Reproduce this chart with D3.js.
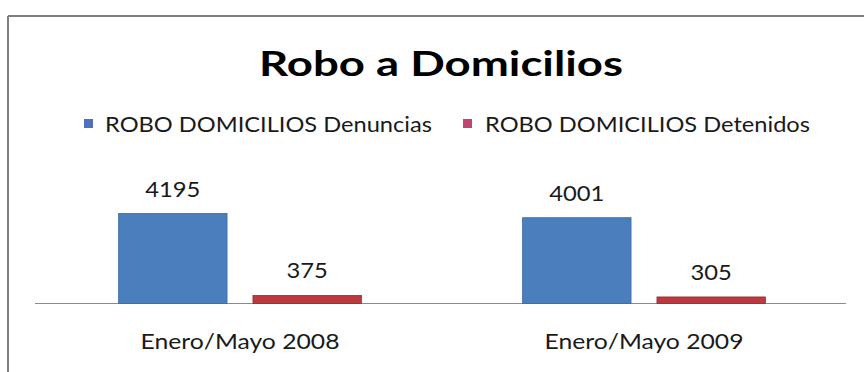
<!DOCTYPE html>
<html>
<head>
<meta charset="utf-8">
<script src="https://cdn.jsdelivr.net/npm/d3@7"></script>
<style>
  html, body { margin: 0; padding: 0; background: #fff; }
  svg { display: block; }
  text { font-family: Lato, "Open Sans", sans-serif; fill: #1a1a1a; }
</style>
</head>
<body>
<svg id="chart" width="864" height="372"></svg>
<script>
// Data
const titleText = "Robo a Domicilios";
const categories = ["Enero/Mayo 2008", "Enero/Mayo 2009"];
const seriesNames = ["ROBO DOMICILIOS Denuncias", "ROBO DOMICILIOS Detenidos"];
const denuncias = [4195, 4001];
const detenidos = [375, 305];
const seriesColors = ["#4a7ebd", "#bb3a40"];
const seriesEdges = ["#3c68a0", "#962a30"];
const legendColors = ["#4f70bd", "#c3436c"];

const svg = d3.select("#chart");
const W = 864, H = 372;

// Frame (top and left edges of the chart area)
svg.append("line").attr("x1", 8).attr("x2", W).attr("y1", 16).attr("y2", 16)
  .attr("stroke", "#7f7f7f").attr("stroke-width", 2);
svg.append("line").attr("x1", 8).attr("x2", 8).attr("y1", 16).attr("y2", H)
  .attr("stroke", "#7f7f7f").attr("stroke-width", 2);

// Fit a text element to a given width
function fit(sel, w) {
  sel.attr("textLength", w).attr("lengthAdjust", "spacingAndGlyphs");
  return sel;
}

// Title
fit(svg.append("text")
  .attr("x", 441).attr("y", 76)
  .attr("text-anchor", "middle")
  .attr("font-size", 35).attr("font-weight", "bold")
  .style("fill", "#000")
  .text(titleText), 364);

// Legend
const legendPos = [{sx: 84, tx: 105, w: 327}, {sx: 463, tx: 485, w: 325}];
seriesNames.forEach((name, i) => {
  svg.append("rect")
    .attr("x", legendPos[i].sx).attr("y", 119)
    .attr("width", 9).attr("height", 9)
    .attr("fill", legendColors[i]);
  fit(svg.append("text")
    .attr("x", legendPos[i].tx).attr("y", 132)
    .attr("font-size", 21)
    .text(name), legendPos[i].w);
});

// Scales
const x0 = d3.scaleBand().domain(categories).range([38, 846]).paddingInner(0).paddingOuter(0);
const x1 = d3.scaleBand().domain(seriesNames).range([0, x0.bandwidth()])
  .paddingInner(0.193).paddingOuter(0.6);
const y = d3.scaleLinear().domain([0, 4500]).range([303.5, 207]);

const rows = categories.map((c, i) => ({
  category: c,
  values: [
    {series: seriesNames[0], value: denuncias[i], idx: 0},
    {series: seriesNames[1], value: detenidos[i], idx: 1}
  ]
}));

// Baseline
svg.append("line")
  .attr("x1", 35).attr("x2", 846)
  .attr("y1", y(0)).attr("y2", y(0))
  .attr("stroke", "#8c8c8c").attr("stroke-width", 1);

const groups = svg.append("g").selectAll("g")
  .data(rows).join("g")
  .attr("transform", d => `translate(${x0(d.category)},0)`);

groups.selectAll("rect")
  .data(d => d.values).join("rect")
  .attr("x", d => x1(d.series))
  .attr("y", d => y(d.value))
  .attr("width", x1.bandwidth())
  .attr("height", d => y(0) - y(d.value))
  .attr("fill", d => seriesColors[d.idx])
  .attr("stroke", d => seriesEdges[d.idx])
  .attr("stroke-width", 0.8);

// Data labels
groups.selectAll("text.val")
  .data(d => d.values).join("text")
  .attr("class", "val")
  .attr("x", d => x1(d.series) + x1.bandwidth() / 2)
  .attr("y", d => y(d.value) - 17)
  .attr("text-anchor", "middle")
  .attr("font-size", 22)
  .attr("textLength", d => String(d.value).length * 13.8)
  .attr("lengthAdjust", "spacingAndGlyphs")
  .text(d => d.value);

// Category axis
const xAxis = svg.append("g")
  .attr("transform", `translate(0,${y(0)})`)
  .call(d3.axisBottom(x0).tickSize(0).tickPadding(0));
xAxis.select(".domain").remove();
xAxis.selectAll(".tick text")
  .attr("y", 45.5).attr("dy", 0)
  .attr("font-size", 21)
  .attr("font-family", "Lato, 'Open Sans', sans-serif")
  .style("fill", "#1a1a1a")
  .attr("textLength", 199)
  .attr("lengthAdjust", "spacingAndGlyphs");
</script>
</body>
</html>
